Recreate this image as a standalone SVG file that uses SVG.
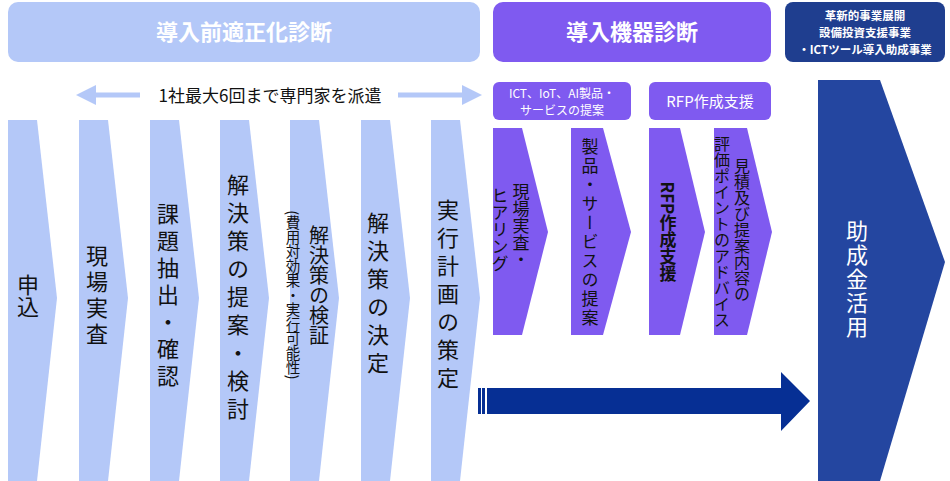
<svg xmlns="http://www.w3.org/2000/svg" width="950" height="481" viewBox="0 0 950 481">
<style>
text{font-family:"Noto Sans CJK JP","Noto Sans",sans-serif}
.lb{fill:#b4c8f8}.pu{fill:#7f5af0}
.v{writing-mode:vertical-rl;text-anchor:middle;fill:#111}
.h{fill:#fff;text-anchor:middle;font-weight:bold}
</style>
<defs>
<marker id="ah" viewBox="0 0 10 10" refX="5" refY="5" markerWidth="4" markerHeight="4" orient="auto-start-reverse"><path d="M0,0 L10,5 L0,10 z" fill="#b4c8f8"/></marker>
</defs>
<g id="hdr1"><rect x="8" y="2" width="472" height="60" rx="10" class="lb"/><text x="244" y="40" class="h" font-size="22">導入前適正化診断</text></g>
<g id="hdr2"><rect x="493" y="2" width="278" height="60" rx="10" class="pu"/><text x="632" y="40" class="h" font-size="22">導入機器診断</text></g>
<g id="hdr3"><rect x="785" y="2" width="160" height="60" rx="8" fill="#1f3e8f"/><text class="h" font-size="11.5"><tspan x="865" y="20">革新的事業展開</tspan><tspan x="865" y="37">設備投資支援事業</tspan><tspan x="865" y="54">・ICTツール導入助成事業</tspan></text></g>
<g id="connectors">
<line x1="86" y1="95" x2="140" y2="95" stroke="#b4c8f8" stroke-width="5" marker-start="url(#ah)"/>
<line x1="398" y1="95" x2="472" y2="95" stroke="#b4c8f8" stroke-width="5" marker-end="url(#ah)"/>
<text x="270" y="102" font-size="17" text-anchor="middle" fill="#111">1社最大6回まで専門家を派遣</text>
<rect x="478" y="388" width="3" height="26" fill="#062f94"/><rect x="482" y="388" width="3" height="26" fill="#062f94"/>
<path d="M487,388 H781 V372 L810,401 L781,431 V414 H487 z" fill="#062f94"/>
</g>
<g id="s1"><path d="M8,120 H37 L57,298 L37,481 H8 z" class="lb"/><text x="28" y="296" class="v" font-size="22">申込</text></g>
<g id="s2"><path d="M79,120 H108 L128,298 L108,481 H79 z" class="lb"/><text x="97" y="297" class="v" font-size="22" letter-spacing="4">現場実査</text></g>
<g id="s3"><path d="M150,120 H179 L199,298 L179,481 H150 z" class="lb"/><text x="168" y="297" class="v" font-size="22" letter-spacing="5">課題抽出・確認</text></g>
<g id="s4"><path d="M220,120 H249 L269,298 L249,481 H220 z" class="lb"/><text x="238" y="300" class="v" font-size="22" letter-spacing="6">解決策の提案・検討</text></g>
<g id="s5"><path d="M290,120 H319 L339,298 L319,481 H290 z" class="lb"/><text x="319" y="285" class="v" font-size="20">解決策の検証</text><text x="293" y="295" class="v" font-size="14.5">(費用対効果・実行可能性)</text></g>
<g id="s6"><path d="M361,120 H390 L410,298 L390,481 H361 z" class="lb"/><text x="378" y="296" class="v" font-size="22" letter-spacing="6">解決策の決定</text></g>
<g id="s7"><path d="M431,120 H460 L480,298 L460,481 H431 z" class="lb"/><text x="448" y="297" class="v" font-size="22" letter-spacing="6">実行計画の策定</text></g>
<g id="p1h"><rect x="493" y="82" width="138" height="38" rx="6" class="pu"/><text x="562" y="98" fill="#fff" font-size="12" text-anchor="middle">ICT、IoT、AI製品・</text><text x="562" y="115" fill="#fff" font-size="12" text-anchor="middle">サービスの提案</text></g>
<g id="p2h"><rect x="649" y="82" width="122" height="38" rx="6" class="pu"/><text x="710" y="107" fill="#fff" font-size="15" text-anchor="middle">RFP作成支援</text></g>
<g id="p1"><path d="M493,128 H522 L548,232 L522,335 H493 z" class="pu"/><text x="521" y="226" class="v" font-size="17">現場実査・</text><text x="500" y="230" class="v" font-size="17">ヒアリング</text></g>
<g id="p2"><path d="M571,128 H603 L631,232 L603,335 H571 z" class="pu"/><text x="590" y="233" class="v" font-size="17" letter-spacing="2">製品・サービスの提案</text></g>
<g id="p3"><path d="M649,128 H680 L705,232 L680,335 H649 z" class="pu"/><text x="668" y="232" class="v" font-size="17" font-weight="bold">RFP作成支援</text></g>
<g id="p4"><path d="M714,128 H747 L772,232 L747,335 H714 z" class="pu"/><text x="742" y="230" class="v" font-size="16">見積及び提案内容の</text><text x="722" y="232" class="v" font-size="16">評価ポイントのアドバイス</text></g>
<g id="big"><path d="M818,80 H880 L945,262 L880,481 H818 z" fill="#2446a0"/><text x="857" y="280" class="v" font-size="22" style="fill:#fff" letter-spacing="2">助成金活用</text></g>
</svg>
